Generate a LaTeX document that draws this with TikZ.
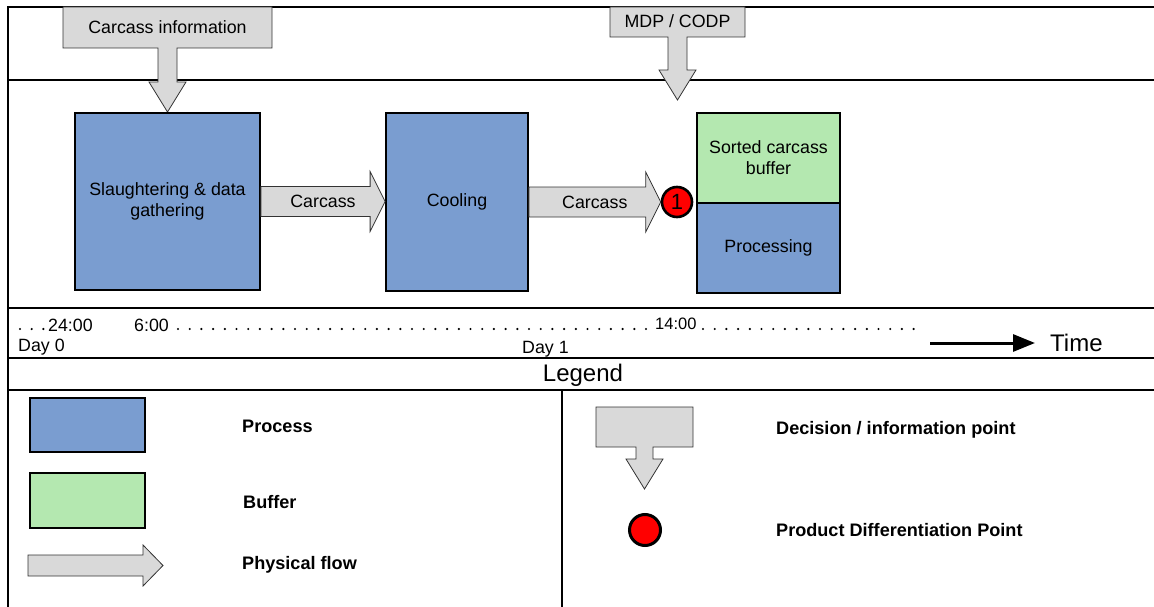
\documentclass[tikz,border=0pt]{standalone}
\usepackage{fontspec}
\setmainfont{Liberation Sans}
\usetikzlibrary{calc,arrows.meta}
\definecolor{procblue}{HTML}{7A9DD0}
\definecolor{bufgreen}{HTML}{B4E8B0}
\definecolor{flowgray}{HTML}{D9D9D9}
\definecolor{pdpred}{HTML}{FF0000}
\newcommand\blockarr[2]{%
  \draw[flowarrow] let \p1=(#1), \p2=(#2) in
    (\x1,\y1+15pt) -- (\x2-15pt,\y1+15pt) -- (\x2-15pt,\y1+30pt) -- (\x2,\y1)
    -- (\x2-15pt,\y1-30pt) -- (\x2-15pt,\y1-15pt) -- (\x1,\y1-15pt) -- cycle;}
\begin{document}
\begin{tikzpicture}[x=1pt,y=-1pt,
  every node/.style={font=\fontsize{17.8}{21}\selectfont, align=center},
  frameline/.style={line width=2pt},
  procbox/.style={draw, line width=1.8pt, fill=procblue, inner sep=0pt},
  bufbox/.style={draw, line width=1.8pt, fill=bufgreen, inner sep=0pt},
  flowarrow/.style={draw=black!80, line width=0.8pt, fill=flowgray},
  infoarrow/.style={draw=black!80, line width=0.8pt, fill=flowgray},
  pdp/.style={circle, draw, line width=2.6pt, fill=pdpred, minimum size=30pt, inner sep=0pt},
  dotline/.style={line width=2.4pt, line cap=round, dash pattern=on 0pt off 11.7pt},
  lbl/.style={anchor=west, inner sep=0pt, font=\bfseries\fontsize{18.1}{21}\selectfont},
  tl/.style={anchor=base west, inner sep=0pt}]
\useasboundingbox (0,0) rectangle (1154,607);

% frame
\draw[frameline] (8,607) -- (8,7) -- (1154,7);
\draw[frameline] (8,80) -- (1154,80);
\draw[frameline] (8,308) -- (1154,308);
\draw[frameline] (8,358) -- (1154,358);
\draw[frameline] (8,390) -- (1154,390);
\draw[line width=1.5pt] (562,390) -- (562,607);

% decision arrows (top)
\draw[infoarrow] (63,7) -- (272,7) -- (272,48) -- (177,48) -- (177,82) -- (186,82)
  -- (167.5,112) -- (149,82) -- (158,82) -- (158,48) -- (63,48) -- cycle;
\node (info) at (167.5,27) {Carcass information};
\draw[infoarrow] (610,7) -- (745,7) -- (745,37) -- (687,37) -- (687,70) -- (696,70)
  -- (677.5,100) -- (659,70) -- (668,70) -- (668,37) -- (610,37) -- cycle;
\node (mdp) at (677.5,21) {MDP / CODP};

% process boxes
\node[procbox, minimum width=185pt, minimum height=177pt] (slaughter) at (167.5,201.5)
  {Slaughtering \& data\\gathering};
\node[procbox, minimum width=142pt, minimum height=178pt] (cooling) at (457,202) {Cooling};
\node[bufbox, minimum width=143pt, minimum height=90pt] (sorted) at (768.5,158)
  {Sorted carcass\\buffer};
\node[procbox, minimum width=143pt, minimum height=90pt] (processing) at (768.5,248)
  {Processing};
\node[pdp, font=\fontsize{22}{24}\selectfont] (pdp1) at (677,202) {1};

% physical flows
\blockarr{slaughter.east}{cooling.west}
\node (c1) at ($(slaughter.east)!0.5!(cooling.west)$) {Carcass};
\blockarr{cooling.east}{pdp1.west}
\node (c2) at ($(cooling.east)!0.5!(pdp1.west)$) {Carcass};

% timeline
\draw[dotline] (20,329) -- (46,329);
\node[tl] (t24) at (48,331) {24:00};
\node[tl] (t6) at (134,331) {6:00};
\draw[dotline] (178,329) -- (648,329);
\node[tl, font=\fontsize{16.5}{18}\selectfont] (t14) at (655,329) {14:00};
\draw[dotline] (703,329) -- (918,329);
\node[tl] (d0) at (18,351) {Day 0};
\node[tl] (d1) at (522,353) {Day 1};
\coordinate (tstart) at (930,343);
\coordinate (tend) at (1035,343);
\draw[line width=3pt, -{Triangle[length=22pt,width=17pt]}] (tstart) -- (tend);
\node[anchor=west, inner sep=0pt, font=\fontsize{24}{28}\selectfont] (time) at (1050,343) {Time};

% legend
\node[font=\fontsize{24}{28}\selectfont] (legend) at (583,375) {Legend};
\node[procbox, minimum width=115pt, minimum height=54pt] (lproc) at (87.5,425) {};
\node[lbl] (lproct) at (242,426) {Process};
\node[bufbox, minimum width=115pt, minimum height=55pt] (lbuf) at (87.5,500.5) {};
\node[lbl] (lbuft) at (243,502) {Buffer};
\coordinate (lflowa) at (28,565.5);
\coordinate (lflowb) at (163,565.5);
\draw[flowarrow] (28,555) -- (143,555) -- (143,545) -- (163,565.5) -- (143,586)
  -- (143,576) -- (28,576) -- cycle;
\node[lbl] (lflowt) at (242,565) {Physical flow};
\draw[infoarrow] (596,407) -- (693,407) -- (693,447) -- (653,447) -- (653,459) -- (663,459)
  -- (644.5,489) -- (626,459) -- (636,459) -- (636,447) -- (596,447) -- cycle;
\node[lbl] (ldect) at (776,430) {Decision / information point};
\node[pdp, line width=3pt, minimum size=31pt] (lpdp) at (645,530) {};
\node[lbl] (lpdpt) at (776,530) {Product Differentiation Point};
\end{tikzpicture}
\end{document}
